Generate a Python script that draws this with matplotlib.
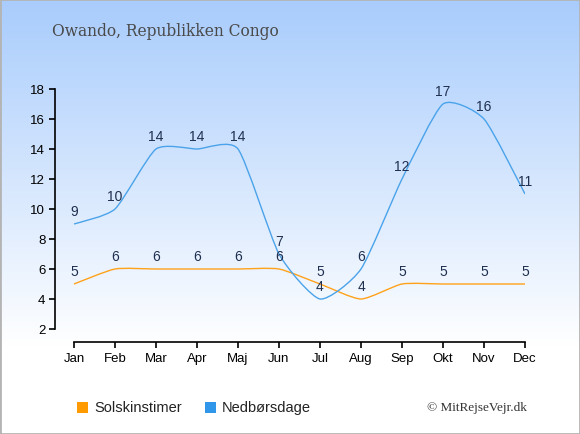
import numpy as np
import matplotlib
matplotlib.use('Agg')
import matplotlib.pyplot as plt
from matplotlib.path import Path
from matplotlib.patches import PathPatch, Rectangle

months = ['Jan', 'Feb', 'Mar', 'Apr', 'Maj', 'Jun', 'Jul', 'Aug', 'Sep', 'Okt', 'Nov', 'Dec']
sun_hours = [5, 6, 6, 6, 6, 6, 5, 4, 5, 5, 5, 5]
rain_days = [9, 10, 14, 14, 14, 7, 4, 6, 12, 17, 16, 11]
yticks = [2, 4, 6, 8, 10, 12, 14, 16, 18]

SUN_COLOR = '#ffa21a'
RAIN_COLOR = '#4aa3ea'
LABEL_COLOR = '#1f2f4f'

W, H = 580, 435


def smooth_path(xs, ys, k=0.1):
    # cardinal spline as cubic bezier segments
    xs = np.asarray(xs, float)
    ys = np.asarray(ys, float)
    n = len(xs)
    verts = [(xs[0], ys[0])]
    codes = [Path.MOVETO]
    for i in range(n - 1):
        p0 = (xs[max(i - 1, 0)], ys[max(i - 1, 0)])
        p1 = (xs[i], ys[i])
        p2 = (xs[i + 1], ys[i + 1])
        p3 = (xs[min(i + 2, n - 1)], ys[min(i + 2, n - 1)])
        c1 = (p1[0] + (p2[0] - p0[0]) * k, p1[1] + (p2[1] - p0[1]) * k)
        c2 = (p2[0] - (p3[0] - p1[0]) * k, p2[1] - (p3[1] - p1[1]) * k)
        verts += [c1, c2, p2]
        codes += [Path.CURVE4] * 3
    return Path(verts, codes)


fig = plt.figure(figsize=(W / 100, H / 100), dpi=100)

# background gradient
bg = fig.add_axes([0, 0, 1, 1], zorder=-10)
grad = np.linspace(0, 1, 256)
top = np.array([0.66, 0.80, 0.99])
frac = np.clip(grad / 0.8, 0, 1)[:, None]
img = top * (1 - frac) + np.array([1.0, 1.0, 1.0]) * frac
bg.imshow(img[:, None, :], aspect='auto', extent=[0, 1, 0, 1])
bg.set_axis_off()
fig.patches.append(Rectangle((0, 0), 1, 1, transform=fig.transFigure, fill=False,
                             edgecolor='#b4b4b4', linewidth=2))

# main axes
left_px, right_px, bottom_px, top_px = 55, 525, 343, 85
ax = fig.add_axes([left_px / W, 1 - bottom_px / H, (right_px - left_px) / W, (bottom_px - top_px) / H])
ax.patch.set_alpha(0)
x = np.arange(len(months))
ax.set_xlim(-19 / 41, 11)
ax.set_ylim(2 - 13 / 15, 18 + 5 / 15)

ax.add_patch(PathPatch(smooth_path(x, sun_hours), fill=False, edgecolor=SUN_COLOR, lw=1.0))
ax.add_patch(PathPatch(smooth_path(x, rain_days), fill=False, edgecolor=RAIN_COLOR, lw=1.0))

for xi, v in zip(x, sun_hours):
    ax.annotate(str(v), (xi, v), xytext=(0, 9.5), textcoords='offset points',
                ha='center', va='center', fontsize=10, color=LABEL_COLOR,
                family='Liberation Sans')
for xi, v in zip(x, rain_days):
    ax.annotate(str(v), (xi, v), xytext=(0, 9.5), textcoords='offset points',
                ha='center', va='center', fontsize=10, color=LABEL_COLOR,
                family='Liberation Sans')

ax.set_xticks(x)
ax.set_xticklabels(months)
ax.set_yticks(yticks)
for s in ['top', 'right']:
    ax.spines[s].set_visible(False)
ax.spines['left'].set_bounds(2, 18)
ax.spines['bottom'].set_bounds(0, 11)
ax.spines['left'].set_linewidth(1.2)
ax.spines['bottom'].set_linewidth(1.2)
ax.tick_params(axis='both', length=4, width=1.2, labelsize=9.5, colors='black', pad=3)
for lab in ax.get_xticklabels() + ax.get_yticklabels():
    lab.set_family('Liberation Sans')

# title
fig.text(52 / W, 1 - 32 / H, 'Owando, Republikken Congo', fontsize=11.2, color='#4a4a4a',
         family='DejaVu Serif', ha='left', va='center')

# legend
fig.patches.append(Rectangle((77 / W, 1 - 414 / H), 11 / W, 11 / H, transform=fig.transFigure,
                             facecolor='#ff9a00', edgecolor='none'))
fig.text(94 / W, 1 - 408 / H, 'Solskinstimer', fontsize=10.5, family='Liberation Sans',
         ha='left', va='center', color='#222222')
fig.patches.append(Rectangle((205 / W, 1 - 414 / H), 11 / W, 11 / H, transform=fig.transFigure,
                             facecolor='#3096ea', edgecolor='none'))
fig.text(222 / W, 1 - 408 / H, 'Nedbørsdage', fontsize=10.5, family='Liberation Sans',
         ha='left', va='center', color='#222222')
fig.text(527 / W, 1 - 408 / H, '© MitRejseVejr.dk', fontsize=9.5, family='Liberation Serif',
         ha='right', va='center', color='#333333')

fig.savefig('out.png', dpi=100)
